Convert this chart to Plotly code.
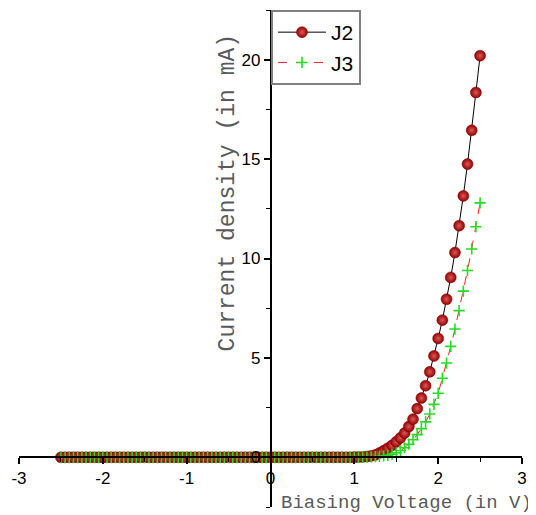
import plotly.graph_objects as go

voltage = [
    -2.50, -2.45, -2.40, -2.35, -2.30, -2.25, -2.20, -2.15, -2.10, -2.05,
    -2.00, -1.95, -1.90, -1.85, -1.80, -1.75, -1.70, -1.65, -1.60, -1.55,
    -1.50, -1.45, -1.40, -1.35, -1.30, -1.25, -1.20, -1.15, -1.10, -1.05,
    -1.00, -0.95, -0.90, -0.85, -0.80, -0.75, -0.70, -0.65, -0.60, -0.55,
    -0.50, -0.45, -0.40, -0.35, -0.30, -0.25, -0.20, -0.15, -0.10, -0.05,
    0.00, 0.05, 0.10, 0.15, 0.20, 0.25, 0.30, 0.35, 0.40, 0.45,
    0.50, 0.55, 0.60, 0.65, 0.70, 0.75, 0.80, 0.85, 0.90, 0.95,
    1.00, 1.05, 1.10, 1.15, 1.20, 1.25, 1.30, 1.35, 1.40, 1.45,
    1.50, 1.55, 1.60, 1.65, 1.70, 1.75, 1.80, 1.85, 1.90, 1.95,
    2.00, 2.05, 2.10, 2.15, 2.20, 2.25, 2.30, 2.35, 2.40, 2.45,
    2.50,
]

j2 = [
    0.0, 0.0, 0.0, 0.0, 0.0, 0.0, 0.0, 0.0, 0.0, 0.0,
    0.0, 0.0, 0.0, 0.0, 0.0, 0.0, 0.0, 0.0, 0.0, 0.0,
    0.0, 0.0, 0.0, 0.0, 0.0, 0.0, 0.0, 0.0, 0.0, 0.0,
    0.0, 0.0, 0.0, 0.0, 0.0, 0.0, 0.0, 0.0, 0.0, 0.0,
    0.0, 0.0, 0.0, 0.0, 0.0, 0.0, 0.0, 0.0, 0.0, 0.0,
    0.0, 0.0, 0.0, 0.0, 0.0, 0.0, 0.0, 0.0, 0.0, 0.0,
    0.0, 0.0, 0.0, 0.0, 0.0, 0.0, 0.0, 0.0, 0.0, 0.0,
    0.01, 0.01, 0.02, 0.04, 0.07, 0.12, 0.22, 0.33, 0.46, 0.60,
    0.78, 0.98, 1.22, 1.55, 1.92, 2.45, 2.98, 3.60, 4.30, 5.10,
    5.98, 6.90, 7.95, 9.05, 10.30, 11.65, 13.15, 14.75, 16.45, 18.35,
    20.20,
]

j3 = [
    0.0, 0.0, 0.0, 0.0, 0.0, 0.0, 0.0, 0.0, 0.0, 0.0,
    0.0, 0.0, 0.0, 0.0, 0.0, 0.0, 0.0, 0.0, 0.0, 0.0,
    0.0, 0.0, 0.0, 0.0, 0.0, 0.0, 0.0, 0.0, 0.0, 0.0,
    0.0, 0.0, 0.0, 0.0, 0.0, 0.0, 0.0, 0.0, 0.0, 0.0,
    0.0, 0.0, 0.0, 0.0, 0.0, 0.0, 0.0, 0.0, 0.0, 0.0,
    0.0, 0.0, 0.0, 0.0, 0.0, 0.0, 0.0, 0.0, 0.0, 0.0,
    0.0, 0.0, 0.0, 0.0, 0.0, 0.0, 0.0, 0.0, 0.0, 0.0,
    0.0, 0.0, 0.01, 0.01, 0.02, 0.03, 0.05, 0.07, 0.10, 0.15,
    0.23, 0.34, 0.48, 0.66, 0.88, 1.14, 1.44, 1.78, 2.18, 2.66,
    3.22, 3.98, 4.74, 5.58, 6.45, 7.38, 8.36, 9.40, 10.48, 11.60,
    12.80,
]

x_ticks = [-3, -2, -1, 0, 1, 2, 3]
y_ticks = [0, 5, 10, 15, 20]

fig = go.Figure()
fig.add_trace(go.Scatter(
    x=voltage, y=j2, name="J2", mode="lines+markers",
    line=dict(color="black", width=1),
    marker=dict(symbol="circle", size=11, color="#980000",
                gradient=dict(type="radial", color="#d85a5a"),
                line=dict(color="#7a0000", width=0.5)),
))
fig.add_trace(go.Scatter(
    x=voltage, y=j3, name="J3", mode="lines+markers",
    line=dict(color="#ff2020", width=1, dash="dash"),
    marker=dict(symbol="cross-thin", size=8, color="#22dd22",
                line=dict(color="#22dd22", width=1.6)),
))

tickfont = dict(family="Liberation Sans, Arial, sans-serif", size=17, color="black")
fig.update_layout(
    width=536, height=515,
    # the page body adds an 8 px offset, so margins are reduced accordingly
    margin=dict(l=11, r=22, t=2, b=16, autoexpand=False),
    paper_bgcolor="white", plot_bgcolor="white",
    showlegend=True,
    legend=dict(x=0.501, y=1.0, xanchor="left", yanchor="top",
                bgcolor="white", bordercolor="#808080", borderwidth=2,
                font=dict(family="Liberation Sans, Arial, sans-serif", size=21, color="black"),
                itemwidth=48, tracegroupgap=0),
    xaxis=dict(range=[-3, 3], tickvals=x_ticks, ticktext=[str(v) for v in x_ticks],
               showgrid=False, zeroline=False, showline=True, linecolor="black", linewidth=1.5,
               ticks="outside", ticklen=6, tickwidth=1.5, tickcolor="black",
               minor=dict(dtick=0.5, tick0=0, ticks="outside", ticklen=4, tickwidth=1.2, tickcolor="black"),
               anchor="free", position=0.1, tickfont=tickfont, automargin=False),
    yaxis=dict(range=[-2.5, 22.5], tickvals=y_ticks, ticktext=[str(v) for v in y_ticks],
               showgrid=False, zeroline=False, showline=True, linecolor="black", linewidth=1.5,
               ticks="outside", ticklen=6, tickwidth=1.5, tickcolor="black",
               minor=dict(dtick=2.5, tick0=0, ticks="outside", ticklen=4, tickwidth=1.2, tickcolor="black"),
               anchor="free", position=0.5, tickfont=tickfont, automargin=False),
    annotations=[
        dict(text="Biasing Voltage (in V)", xref="paper", yref="paper", x=1.0239, y=0.008,
             xanchor="right", yanchor="middle", showarrow=False,
             font=dict(family="Liberation Mono, Courier New, monospace", size=19, color="#5a5a5a")),
        dict(text="Current density (in mA)", xref="paper", yref="paper", x=0.4155, y=0.633,
             xanchor="center", yanchor="middle", showarrow=False, textangle=-90,
             font=dict(family="Liberation Mono, Courier New, monospace", size=23, color="#5a5a5a")),
    ],
)

fig.write_html("out.html")
